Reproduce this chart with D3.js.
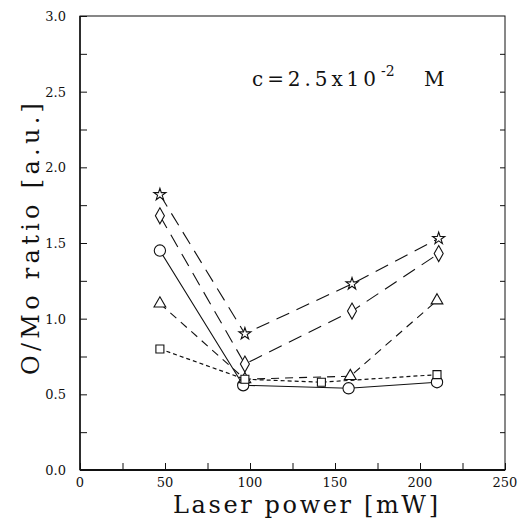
<!DOCTYPE html>
<html>
<head>
<meta charset="utf-8">
<script src="https://cdn.jsdelivr.net/npm/d3@7"></script>
<style>
  body { margin: 0; background: #fff; }
  svg { display: block; }
  .tick-label { font-family: "DejaVu Serif", serif; font-size: 13px; fill: #111; }
  .axis-title { font-family: "DejaVu Serif", serif; font-size: 24px; fill: #111; }
  .conc { font-family: "DejaVu Serif", serif; fill: #111; }
</style>
</head>
<body>
<svg width="529" height="520"></svg>
<script>
// laser power (mW) for each series
const starX = [47, 97, 160, 211]
const starY = [1.82, 0.90, 1.23, 1.53]
const diamondX = [47, 97, 160, 211]
const diamondY = [1.68, 0.70, 1.05, 1.43]
const circleX = [47, 96, 158, 210]
const circleY = [1.45, 0.56, 0.54, 0.58]
const triangleX = [47, 97, 159, 210]
const triangleY = [1.10, 0.60, 0.62, 1.12]
const squareX = [47, 97, 142, 210]
const squareY = [0.80, 0.60, 0.58, 0.63]

const xTicks = [0, 50, 100, 150, 200, 250]
const yTicks = [0.0, 0.5, 1.0, 1.5, 2.0, 2.5, 3.0]

const series = [
    {name: 'star', xs: starX, ys: starY, dash: '14,8', width: 1.1},
    {name: 'diamond', xs: diamondX, ys: diamondY, dash: '14,8', width: 1.1},
    {name: 'circle', xs: circleX, ys: circleY, dash: null, width: 1.1},
    {name: 'triangle', xs: triangleX, ys: triangleY, dash: '8,6', width: 1.1},
    {name: 'square', xs: squareX, ys: squareY, dash: '4,3', width: 1.2}
]

const svg = d3.select('svg')
const mLeft = 80, mRight = 505, mTop = 16, mBottom = 470

const x = d3.scaleLinear().domain([0, 250]).range([mLeft, mRight])
const y = d3.scaleLinear().domain([0, 3]).range([mBottom, mTop])

// frame
svg.append('rect')
    .attr('x', mLeft).attr('y', mTop)
    .attr('width', mRight - mLeft).attr('height', mBottom - mTop)
    .attr('fill', 'none').attr('stroke', '#111').attr('stroke-width', 1)
svg.append('line')
    .attr('x1', mLeft).attr('x2', mRight).attr('y1', mBottom).attr('y2', mBottom)
    .attr('stroke', '#111').attr('stroke-width', 2)
svg.append('line')
    .attr('x1', mLeft).attr('x2', mLeft).attr('y1', mTop).attr('y2', mBottom)
    .attr('stroke', '#111').attr('stroke-width', 1.5)

// inward ticks
const xAxis = d3.axisBottom(x).tickValues(d3.range(0, 251, 25)).tickSize(-7).tickFormat('')
svg.append('g').attr('transform', `translate(0,${mBottom})`).call(xAxis)
    .call(g => g.select('.domain').remove())
const yAxis = d3.axisLeft(y).tickValues(d3.range(0, 3.01, 0.25)).tickSize(-7).tickFormat('')
svg.append('g').attr('transform', `translate(${mLeft},0)`).call(yAxis)
    .call(g => g.select('.domain').remove())
const yAxisR = d3.axisRight(y).tickValues(d3.range(0.25, 3, 0.25)).tickSize(-5).tickFormat('')
svg.append('g').attr('transform', `translate(${mRight},0)`).call(yAxisR)
    .call(g => g.select('.domain').remove())
svg.selectAll('.tick line').attr('stroke', '#111').attr('stroke-width', 1)

// tick labels
svg.selectAll('.xlab').data(xTicks).enter().append('text')
    .attr('class', 'tick-label')
    .attr('x', d => x(d)).attr('y', mBottom + 17)
    .attr('text-anchor', 'middle')
    .text(d => d)
svg.selectAll('.ylab').data(yTicks).enter().append('text')
    .attr('class', 'tick-label')
    .attr('x', mLeft - 14).attr('y', d => y(d) + 5)
    .attr('text-anchor', 'end')
    .text(d => d.toFixed(1))

// axis titles
svg.append('text').attr('class', 'axis-title')
    .attr('x', 173).attr('y', 513)
    .attr('textLength', 265).attr('lengthAdjust', 'spacing')
    .text('Laser power [mW]')
svg.append('text').attr('class', 'axis-title')
    .attr('transform', 'translate(39,375) rotate(-90)')
    .attr('textLength', 272).attr('lengthAdjust', 'spacing')
    .text('O/Mo ratio [a.u.]')

// concentration label
svg.append('text').attr('class', 'conc')
    .attr('x', 252).attr('y', 86).attr('font-size', 20)
    .attr('textLength', 124).attr('lengthAdjust', 'spacing')
    .text('c=2.5x10')
svg.append('text').attr('class', 'conc')
    .attr('x', 381).attr('y', 76).attr('font-size', 14)
    .text('-2')
svg.append('text').attr('class', 'conc')
    .attr('x', 424).attr('y', 86).attr('font-size', 20)
    .text('M')

// lines
const line = d3.line().x(d => x(d[0])).y(d => y(d[1]))
series.forEach(s => {
    const pts = s.xs.map((v, i) => [v, s.ys[i]])
    svg.append('path')
        .attr('d', line(pts))
        .attr('fill', 'none')
        .attr('stroke', '#111')
        .attr('stroke-width', s.width)
        .attr('stroke-dasharray', s.dash)
})

// markers
const symbols = {
    star: d3.symbol().type(d3.symbolStar).size(45),
    circle: d3.symbol().type(d3.symbolCircle).size(100),
    triangle: d3.symbol().type(d3.symbolTriangle).size(60),
    square: d3.symbol().type(d3.symbolSquare).size(64)
}
series.forEach(s => {
    const pts = s.xs.map((v, i) => [v, s.ys[i]])
    const g = svg.append('g')
    pts.forEach(p => {
        if (s.name === 'diamond') {
            g.append('path')
                .attr('d', 'M0,-8L4.5,0L0,8L-4.5,0Z')
                .attr('transform', `translate(${x(p[0])},${y(p[1])})`)
                .attr('fill', '#fff').attr('stroke', '#111').attr('stroke-width', 1.1)
        } else {
            g.append('path')
                .attr('d', symbols[s.name]())
                .attr('transform', `translate(${x(p[0])},${y(p[1])})`)
                .attr('fill', '#fff').attr('stroke', '#111').attr('stroke-width', 1.1)
        }
    })
})
</script>
</body>
</html>
